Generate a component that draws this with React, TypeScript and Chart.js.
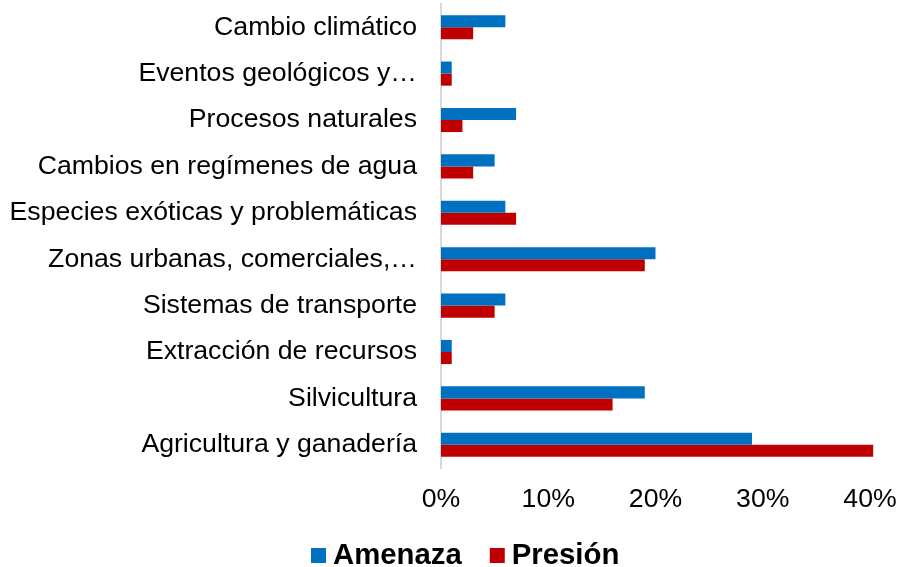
import React, { useEffect, useRef } from "react";
import { Chart, registerables } from "chart.js";

Chart.register(...registerables);

const categories = [
  "Cambio climático",
  "Eventos geológicos y…",
  "Procesos naturales",
  "Cambios en regímenes de agua",
  "Especies exóticas y problemáticas",
  "Zonas urbanas, comerciales,…",
  "Sistemas de transporte",
  "Extracción de recursos",
  "Silvicultura",
  "Agricultura y ganadería",
];

const amenaza = [6, 1, 7, 5, 6, 20, 6, 1, 19, 29];
const presion = [3, 1, 2, 3, 7, 19, 5, 1, 16, 40.3];

const seriesNames = ["Amenaza", "Presión"];
const seriesColors = ["#0070C0", "#C00000"];
const xTicks = [0, 10, 20, 30, 40];

const FONT = "'Liberation Sans', Arial, sans-serif";

const customLegend = {
  id: "customLegend",
  afterDraw(chart: any) {
    const ctx = chart.ctx;
    const datasets = chart.data.datasets;
    ctx.save();
    ctx.font = `bold 29.33px ${FONT}`;
    ctx.textBaseline = "alphabetic";
    ctx.textAlign = "left";
    let x = 311;
    const box = 15;
    const boxTop = 548;
    const baseline = 564;
    datasets.forEach((ds: any) => {
      ctx.fillStyle = ds.backgroundColor;
      ctx.fillRect(x, boxTop, box, box);
      const tx = x + box + 7;
      ctx.fillStyle = "#000";
      ctx.fillText(ds.label, tx, baseline);
      const w = ctx.measureText(ds.label).width;
      x = tx + w + 28;
    });
    ctx.restore();
  },
};

const zeroPad = (scale: any) => {
  scale.paddingLeft = 0;
  scale.paddingRight = 0;
  scale.paddingTop = 0;
  scale.paddingBottom = 0;
};

export default function App() {
  const ref = useRef<HTMLCanvasElement | null>(null);

  useEffect(() => {
    document.body.style.margin = "0";
    if (!ref.current) return;
    const chart = new Chart(ref.current, {
      type: "bar",
      data: {
        labels: categories,
        datasets: [
          {
            label: seriesNames[0],
            data: amenaza,
            backgroundColor: seriesColors[0],
            categoryPercentage: 0.52,
            barPercentage: 1,
            clip: false,
          },
          {
            label: seriesNames[1],
            data: presion,
            backgroundColor: seriesColors[1],
            categoryPercentage: 0.52,
            barPercentage: 1,
            clip: false,
          },
        ],
      },
      options: {
        indexAxis: "y",
        animation: false,
        responsive: false,
        maintainAspectRatio: false,
        layout: { padding: { top: 4, right: 29, bottom: 51, left: 0 } },
        plugins: {
          legend: { display: false },
          tooltip: { enabled: false },
        },
        scales: {
          x: {
            min: xTicks[0],
            max: xTicks[xTicks.length - 1],
            grid: { display: false, drawTicks: false },
            border: { display: false },
            ticks: {
              stepSize: 10,
              padding: 16,
              maxRotation: 0,
              color: "#000",
              font: { family: FONT, size: 26.67 },
              callback: (v: any) => `${v}%`,
            },
            afterFit: (scale: any) => {
              scale.height = 48;
              zeroPad(scale);
            },
          },
          y: {
            grid: { display: false, drawTicks: false },
            border: { display: true, color: "#d9d9d9", width: 2 },
            ticks: {
              autoSkip: false,
              padding: 24,
              color: "#000",
              font: { family: FONT, size: 26.67 },
            },
            afterFit: (scale: any) => {
              scale.width = 441;
              zeroPad(scale);
            },
          },
        },
      },
      plugins: [customLegend],
    });
    return () => chart.destroy();
  }, []);

  return (
    <div style={{ width: 899, height: 567 }}>
      <canvas ref={ref} width={899} height={567} style={{ display: "block" }} />
    </div>
  );
}
